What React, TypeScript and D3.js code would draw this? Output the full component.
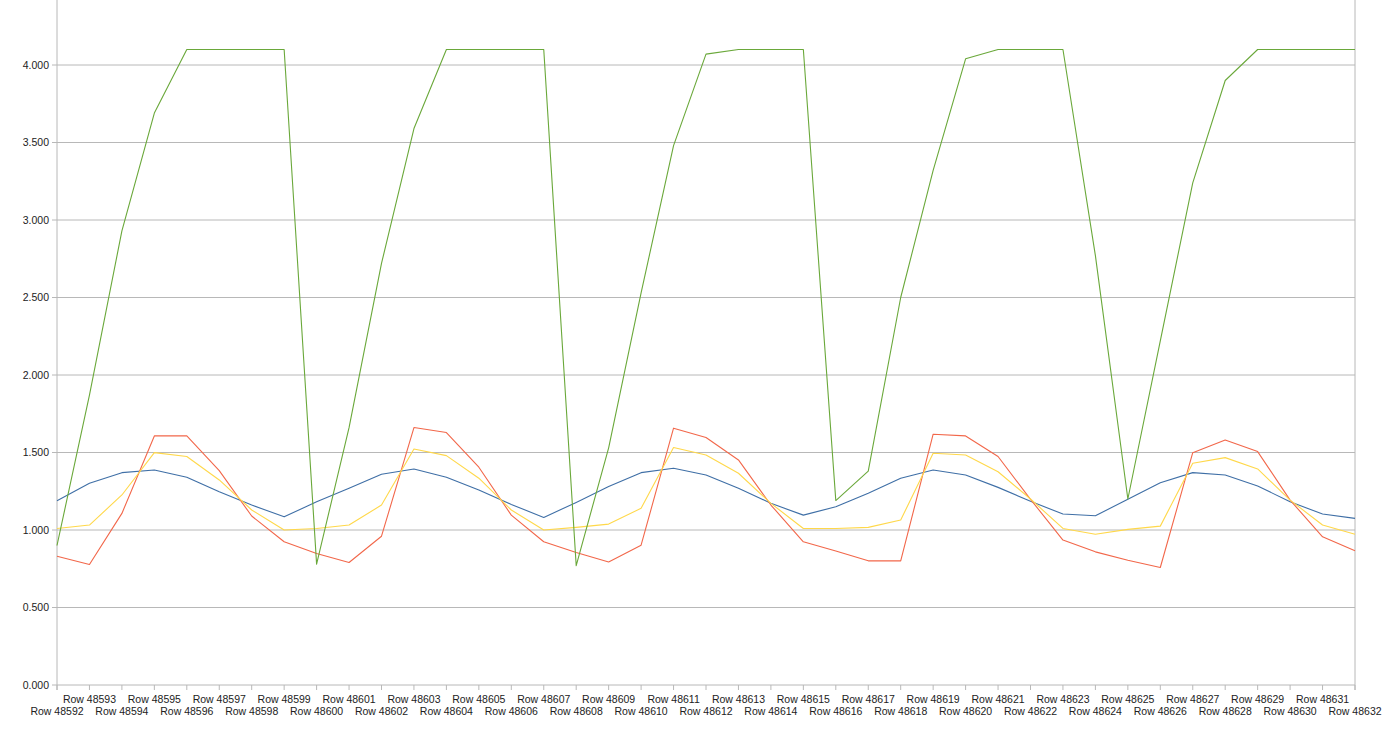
import React from "react";
import * as d3 from "d3";

const categories: string[] = Array.from({ length: 41 }, (_, i) => `Row ${48592 + i}`);

const blueSeries = [1.189, 1.301, 1.370, 1.387, 1.340, 1.247, 1.161, 1.085, 1.182, 1.269, 1.360, 1.394, 1.340, 1.258, 1.165, 1.081, 1.178, 1.280, 1.370, 1.398, 1.355, 1.269, 1.172, 1.096, 1.150, 1.237, 1.334, 1.387, 1.355, 1.275, 1.185, 1.103, 1.092, 1.198, 1.305, 1.370, 1.355, 1.284, 1.182, 1.103, 1.075];
const redSeries = [0.831, 0.777, 1.107, 1.607, 1.607, 1.383, 1.090, 0.924, 0.849, 0.790, 0.960, 1.661, 1.629, 1.405, 1.096, 0.924, 0.855, 0.794, 0.902, 1.657, 1.597, 1.452, 1.161, 0.924, 0.864, 0.801, 0.801, 1.618, 1.607, 1.474, 1.198, 0.935, 0.859, 0.805, 0.758, 1.499, 1.581, 1.506, 1.193, 0.956, 0.866];
const yellowSeries = [1.010, 1.032, 1.226, 1.499, 1.474, 1.323, 1.129, 1.000, 1.010, 1.032, 1.161, 1.523, 1.480, 1.334, 1.129, 1.000, 1.017, 1.038, 1.140, 1.532, 1.484, 1.366, 1.172, 1.010, 1.010, 1.017, 1.064, 1.495, 1.484, 1.376, 1.200, 1.010, 0.973, 1.004, 1.025, 1.431, 1.467, 1.394, 1.193, 1.032, 0.973];
const greenSeries = [0.90, 1.87, 2.93, 3.69, 4.10, 4.10, 4.10, 4.10, 0.78, 1.66, 2.72, 3.59, 4.10, 4.10, 4.10, 4.10, 0.77, 1.53, 2.53, 3.48, 4.07, 4.10, 4.10, 4.10, 1.19, 1.38, 2.50, 3.32, 4.04, 4.10, 4.10, 4.10, 2.77, 1.20, 2.22, 3.24, 3.90, 4.10, 4.10, 4.10, 4.10];

const yTicks = [0, 0.5, 1, 1.5, 2, 2.5, 3, 3.5, 4];
const yTickLabels = ["0.000", "0.500", "1.000", "1.500", "2.000", "2.500", "3.000", "3.500", "4.000"];

const seriesList = [
  { name: "s1", values: blueSeries, color: "#3f6fa6" },
  { name: "s2", values: redSeries, color: "#f2674a" },
  { name: "s3", values: yellowSeries, color: "#ffd84a" },
  { name: "s4", values: greenSeries, color: "#6aa83a" },
];

const W = 1400;
const H = 729;
const left = 57;
const right = 1355;
const bottom = 685;

export default function App() {
  const x = d3.scalePoint<number>().domain(categories.map((_, i) => i)).range([left, right]);
  const y = d3.scaleLinear().domain([0, 4.5]).range([bottom, bottom - 4.5 * 155]);
  const line = d3
    .line<number>()
    .x((_, i) => x(i) as number)
    .y((d) => y(d));
  const font = "'Liberation Sans', Arial, sans-serif";
  return (
    <svg
      width={W}
      height={H}
      style={{ position: "absolute", left: 0, top: 0, background: "#fff" }}
    >
      {yTicks.map((t, i) => (
        <g key={"g" + i}>
          <line x1={left - 5} x2={right} y1={y(t)} y2={y(t)} stroke="#b8b8b8" strokeWidth={1} />
          <text
            x={49}
            y={y(t)}
            dy="0.35em"
            textAnchor="end"
            fontFamily={font}
            fontSize={10.5}
            fill="#222"
          >
            {yTickLabels[i]}
          </text>
        </g>
      ))}
      <line x1={left} x2={left} y1={0} y2={bottom + 5} stroke="#b8b8b8" strokeWidth={1} />
      <line x1={right} x2={right} y1={0} y2={bottom + 5} stroke="#b8b8b8" strokeWidth={1} />
      {categories.map((c, i) => (
        <g key={"x" + i}>
          <line
            x1={x(i) as number}
            x2={x(i) as number}
            y1={bottom}
            y2={bottom + 5}
            stroke="#b8b8b8"
            strokeWidth={1}
          />
          <text
            x={x(i) as number}
            y={i % 2 === 0 ? 715 : 703}
            textAnchor="middle"
            fontFamily={font}
            fontSize={10.5}
            fill="#222"
          >
            {c}
          </text>
        </g>
      ))}
      {seriesList.map((s) => (
        <path
          key={s.name}
          d={line(s.values) || ""}
          fill="none"
          stroke={s.color}
          strokeWidth={1.1}
          strokeLinejoin="round"
        />
      ))}
    </svg>
  );
}
